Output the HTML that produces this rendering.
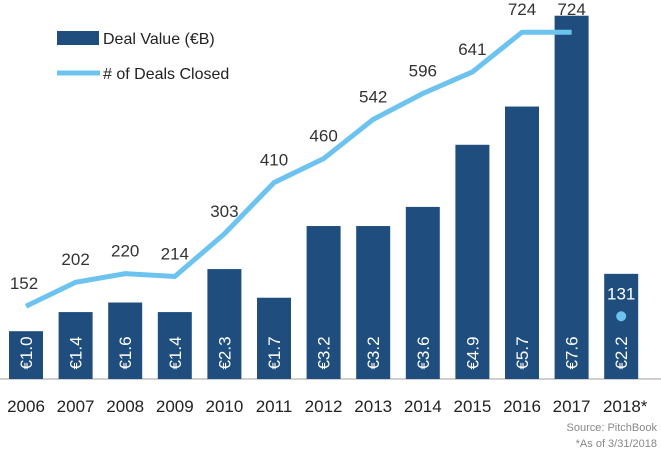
<!DOCTYPE html>
<html><head><meta charset="utf-8"><style>
body{margin:0;background:#fff;}
svg{display:block;font-family:"Liberation Sans",sans-serif;}
</style></head><body>
<svg id="chart" width="661" height="451" viewBox="0 0 661 451">
<line x1="0" y1="379" x2="661" y2="379" stroke="#d0d0d0" stroke-width="2"/>
<g id="bars"></g><g id="line"></g><g id="labels"></g>
<rect x="57" y="31" width="42" height="14" fill="#1f4e7e"/>
<text x="103" y="44" font-size="16" fill="#222">Deal Value (€B)</text>
<line x1="57" y1="73" x2="100" y2="73" stroke="#6cc3ef" stroke-width="5"/>
<text x="103" y="79" font-size="16" fill="#222"># of Deals Closed</text>
<text x="657" y="431" font-size="11" fill="#888" text-anchor="end">Source: PitchBook</text>
<text x="657" y="447" font-size="11" fill="#888" text-anchor="end">*As of 3/31/2018</text>
</svg>
<script>
const years=["2006","2007","2008","2009","2010","2011","2012","2013","2014","2015","2016","2017","2018*"];
const dealValues=[1.0,1.4,1.6,1.4,2.3,1.7,3.2,3.2,3.6,4.9,5.7,7.6,2.2];
const valueLabels=["€1.0","€1.4","€1.6","€1.4","€2.3","€1.7","€3.2","€3.2","€3.6","€4.9","€5.7","€7.6","€2.2"];
const dealCounts=[152,202,220,214,303,410,460,542,596,641,724,724,131];
const NS="http://www.w3.org/2000/svg";
const base=379;
function xc(i){return 26+i*49.6;}
function yBar(v){return base-v*47.8;}
function yLine(v){return base-v*0.479;}
function mk(tag,attrs,parent){const e=document.createElementNS(NS,tag);for(const k in attrs)e.setAttribute(k,attrs[k]);parent.appendChild(e);return e;}
const gb=document.getElementById('bars'),gl=document.getElementById('line'),gt=document.getElementById('labels');
dealValues.forEach((v,i)=>{
  const r=mk('rect',{x:xc(i)-17,y:yBar(v),width:34,height:base-yBar(v),fill:'#1f4e7e'},gb);
  
  
  const t=mk('text',{x:0,y:0,'font-size':17,fill:'#fff','text-anchor':'middle',transform:`translate(${xc(i)+6},${base-26}) rotate(-90)`},gt);
  t.textContent=valueLabels[i];
  
  
  const yl=mk('text',{x:xc(i)+(i==12?4:0),y:412,'font-size':17,fill:'#222','text-anchor':'middle'},gt);
  yl.textContent=years[i];
  
  
});
const pts=dealCounts.slice(0,12).map((c,i)=>xc(i)+','+yLine(c)).join(' ');
const pl=mk('polyline',{points:pts,fill:'none',stroke:'#6cc3ef','stroke-width':5},gl);


const dot=mk('circle',{cx:xc(12),cy:yLine(dealCounts[12]),r:5,fill:'#6cc3ef'},gl);


dealCounts.forEach((c,i)=>{
  const t=mk('text',{x:xc(i)-(i==0?2:0),y:yLine(c)-17,'font-size':17,fill:i==12?'#fff':'#333','text-anchor':'middle'},gt);
  t.textContent=c;
  
  
});
</script>
</body></html>
